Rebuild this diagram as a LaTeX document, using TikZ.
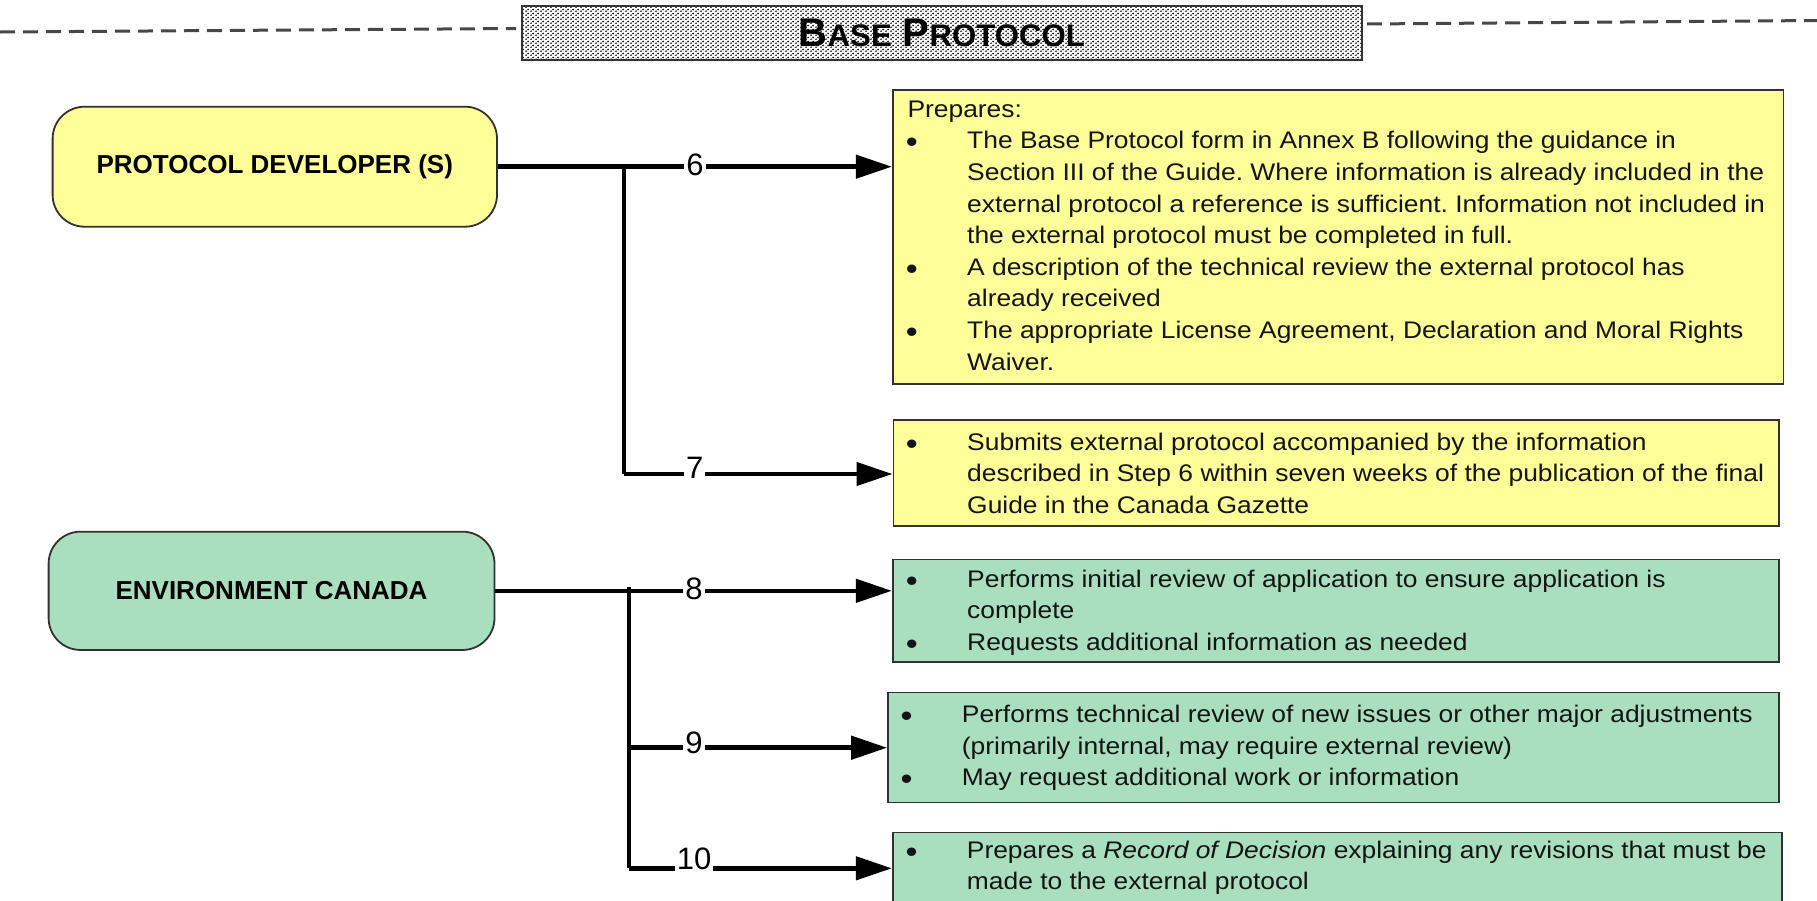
\documentclass[tikz,border=0pt]{standalone}
\usepackage{fontspec}
\setmainfont{Liberation Sans}
\newfontfamily\bodyfont[FakeStretch=1.1]{Liberation Sans}
\usetikzlibrary{arrows.meta,patterns.meta}
\definecolor{ylw}{RGB}{255,255,153}
\definecolor{grn}{RGB}{169,223,190}
\definecolor{edge}{RGB}{50,50,50}
\frenchspacing
\newcommand{\bodyfs}{\bodyfont\fontsize{24}{31.6}\selectfont}
\newcommand{\lblfs}{\fontsize{31}{31}\selectfont}
\newcommand{\actorfs}{\bfseries\fontsize{26}{30}\selectfont}
\newcommand{\bulmk}{\llap{\makebox[61.3pt][l]{\fontsize{31}{31}\selectfont\raisebox{-4pt}{•}}}}
\newcommand{\smcp}[1]{{\fontsize{31.2}{30}\selectfont #1}}
\tikzdeclarepattern{
  name=bpdots,
  type=uncolored,
  bottom left={(0pt,0pt)},
  top right={(5pt,4pt)},
  tile size={(5pt,4pt)},
  code={
    \pgfpathcircle{\pgfqpoint{1.25pt}{1pt}}{1.15pt}
    \pgfpathcircle{\pgfqpoint{3.75pt}{3pt}}{1.15pt}
    \pgfusepath{fill}
  }
}
\begin{document}
\begin{tikzpicture}[x=1pt,y=-1pt,
  actor/.style={draw=edge, line width=1.8pt, rounded corners=32pt, inner sep=0pt, font=\actorfs, text=black},
  stepbox/.style={draw=edge, line width=1.6pt, inner sep=0pt},
  txt/.style={anchor=base west, inner sep=0pt, font=\bodyfs, text=black!92},
  lbl/.style={fill=white, inner sep=2pt, font=\lblfs, text=black},
  hline/.style={line width=4.5pt, -{Triangle[length=36pt,width=23pt]}},
  vline/.style={line width=3.6pt},
  dashline/.style={line width=3pt, black!72, dash pattern=on 15pt off 8pt},
  titlebox/.style={draw=black!80, line width=1.5pt, minimum width=840pt, minimum height=54pt, inner sep=0pt,
    preaction={fill=white}, pattern=bpdots, pattern color=black!90,
    font=\bfseries\fontsize{40}{40}\selectfont}
]
\useasboundingbox (0,0) rectangle (1817,900);
\clip (0,0) rectangle (1817,900);

% header
\node[titlebox] (title) at (941.9,33) {B\smcp{ASE} P\smcp{ROTOCOL}};
\coordinate (dA) at (0,32);
\coordinate (dB) at (516,28.5);
\coordinate (dC) at (1367,24);
\coordinate (dD) at (1817,20.5);
\draw[dashline] (dA) -- (dB);
\draw[dashline] (dC) -- (dD);

% actors
\node[actor, fill=ylw, minimum width=444.4pt, minimum height=120pt] (pd) at (274.8,166.7) {PROTOCOL DEVELOPER (S)};
\node[actor, fill=grn, minimum width=445.9pt, minimum height=118.3pt] (ec) at (271.55,590.8) {ENVIRONMENT CANADA};

% step boxes
\node[stepbox, fill=ylw, minimum width=890.6pt, minimum height=293.7pt] (b6) at (1338,236.85) {};
\node[stepbox, fill=ylw, minimum width=885.4pt, minimum height=106pt] (b7) at (1336,473) {};
\node[stepbox, fill=grn, minimum width=886.3pt, minimum height=102.4pt] (b8) at (1335.85,610.5) {};
\node[stepbox, fill=grn, minimum width=891pt, minimum height=110pt] (b9) at (1333.5,747.3) {};
\node[stepbox, fill=grn, minimum width=889.3pt, minimum height=98pt] (b10) at (1337.35,881.3) {};

% texts
\node[txt] (t6) at (967,117.3) {\begin{tabular}[t]{@{}l@{}}
\hspace*{-59.7pt}Prepares:\\
\bulmk The Base Protocol form in Annex B following the guidance in\\
Section III of the Guide. Where information is already included in the\\
external protocol a reference is sufficient. Information not included in\\
the external protocol must be completed in full.\\
\bulmk A description of the technical review the external protocol has\\
already received\\
\bulmk The appropriate License Agreement, Declaration and Moral Rights\\
Waiver.
\end{tabular}};
\node[txt] (t7) at (967,450) {\begin{tabular}[t]{@{}l@{}}
\bulmk Submits external protocol accompanied by the information\\
described in Step 6 within seven weeks of the publication of the final\\
Guide in the Canada Gazette
\end{tabular}};
\node[txt] (t8) at (967,587) {\begin{tabular}[t]{@{}l@{}}
\bulmk Performs initial review of application to ensure application is\\
complete\\
\bulmk Requests additional information as needed
\end{tabular}};
\node[txt] (t9) at (961.7,722.7) {\begin{tabular}[t]{@{}l@{}}
\bulmk Performs technical review of new issues or other major adjustments\\
(primarily internal, may require external review)\\
\bulmk May request additional work or information
\end{tabular}};
\node[txt] (t10) at (966.7,858.3) {\begin{tabular}[t]{@{}l@{}}
\bulmk Prepares a \textit{Record of Decision} explaining any revisions that must be\\
made to the external protocol
\end{tabular}};

% connectors: protocol developer
\coordinate (j6) at (624,166.7);
\coordinate (j7) at (624,474);
\draw[hline] (pd.east) -- (pd.east -| b6.west);
\draw[vline] (j6) -- (j7);
\draw[hline] (j7) -- (j7 -| b7.west);
\node[lbl] (l6) at (695,165.3) {6};
\node[lbl] (l7) at (694.7,468.3) {7};

% connectors: environment canada
\coordinate (k8) at (629,586.5);
\coordinate (k9) at (629,747.7);
\coordinate (k10) at (629,868.3);
\draw[hline] (ec.east) -- (ec.east -| b8.west);
\draw[vline] (k8) -- (k10);
\draw[hline] (k9) -- (k9 -| b9.west);
\draw[hline] (k10) -- (k10 -| b10.west);
\node[lbl] (l8) at (694,588.5) {8};
\node[lbl] (l9) at (694,742.5) {9};
\node[lbl] (l10) at (694,859) {10};
\end{tikzpicture}
\end{document}
